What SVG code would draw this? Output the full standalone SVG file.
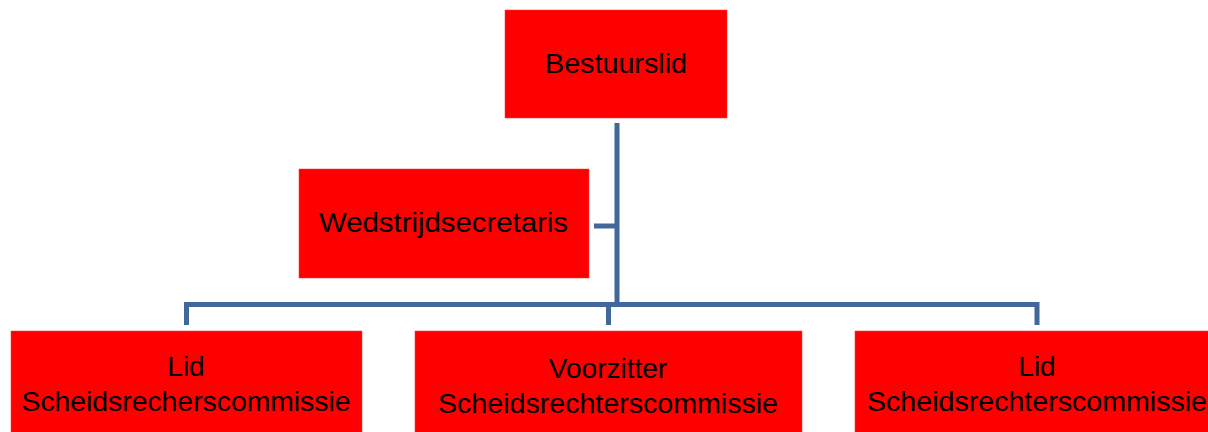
<svg xmlns="http://www.w3.org/2000/svg" width="1208" height="432" viewBox="0 0 1208 432">
<style>
.box{fill:#FF0000;stroke:#FF3030;stroke-width:0.5}
.t{font-family:"Liberation Sans",Arial,sans-serif;font-size:28px;fill:#000;text-anchor:middle}
.c{stroke:#41679B;stroke-width:5;fill:none;stroke-linejoin:miter}
</style>
<rect width="1208" height="432" fill="#fff"/>
<g id="connectors">
<path class="c" d="M617 123 V304.5"/>
<path class="c" d="M594 226 H617"/>
<path class="c" d="M186.5 325 V304.5 H1037 V325"/>
<path class="c" d="M608.5 304.5 V325"/>
</g>
<g id="bestuurslid">
<rect class="box" x="505" y="10" width="222" height="108"/>
<text class="t" x="616" y="73" textLength="142" lengthAdjust="spacingAndGlyphs">Bestuurslid</text>
</g>
<g id="wedstrijdsecretaris">
<rect class="box" x="299" y="169" width="290" height="109"/>
<text class="t" x="443.5" y="232" textLength="249" lengthAdjust="spacingAndGlyphs">Wedstrijdsecretaris</text>
</g>
<g id="lid1">
<rect class="box" x="11" y="331" width="351" height="110"/>
<text class="t" x="186" y="376">Lid</text>
<text class="t" x="186" y="411" textLength="329" lengthAdjust="spacingAndGlyphs">Scheidsrecherscommissie</text>
</g>
<g id="voorzitter">
<rect class="box" x="415" y="331" width="387" height="110"/>
<text class="t" x="608" y="378">Voorzitter</text>
<text class="t" x="608" y="413" textLength="340" lengthAdjust="spacingAndGlyphs">Scheidsrechterscommissie</text>
</g>
<g id="lid2">
<rect class="box" x="855" y="331" width="370" height="110"/>
<text class="t" x="1037" y="376">Lid</text>
<text class="t" x="1037" y="411" textLength="340" lengthAdjust="spacingAndGlyphs">Scheidsrechterscommissie</text>
</g>
</svg>
